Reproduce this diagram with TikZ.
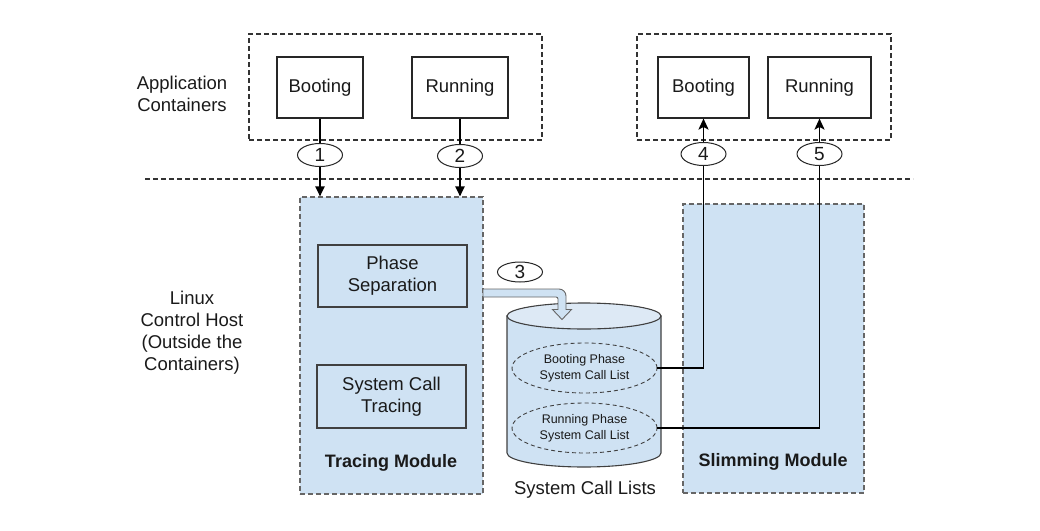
\documentclass[tikz,border=0pt]{standalone}
\usepackage{fontspec}
\setmainfont{Liberation Sans}
\usetikzlibrary{arrows.meta,shapes.geometric}
\definecolor{mblue}{HTML}{CFE2F3}
\definecolor{mtop}{HTML}{DDE9F5}
\definecolor{txt}{HTML}{1A1A1A}
\tikzset{
  big/.style={font=\fontsize{18.5}{22}\selectfont, text=txt},
  cont/.style={draw=black!80, dash pattern=on 5pt off 3pt, line width=1.1pt},
  phasebox/.style={draw=black!85, line width=1.1pt, fill=white, big, inner sep=0pt},
  module/.style={draw=black!60, dash pattern=on 5pt off 3pt, line width=1.1pt, fill=mblue, inner sep=0pt},
  inbox/.style={draw=black!75, line width=1.1pt, big, align=center, inner sep=0pt},
  listell/.style={ellipse, draw=black!75, dash pattern=on 4pt off 3pt, line width=0.9pt, align=center,
     font=\fontsize{12.5}{16}\selectfont, text=txt, inner sep=0pt},
  num/.style={ellipse, draw=black!85, line width=1pt, fill=white, minimum width=45pt, minimum height=23pt, inner sep=0pt, font=\fontsize{19}{22}\selectfont, text=txt},
  flow/.style={line width=1.9pt, draw=black},
}
\begin{document}
\begin{tikzpicture}[x=1pt,y=-1pt]
\useasboundingbox (0,0) rectangle (1040,530);
% side labels
\node[big, align=center] (lab1) at (182,94) {Application\\Containers};
\node[big, align=center] (lab2) at (192,333) {Linux\\Control Host\\(Outside the\\Containers)};
% containers
\node[cont, minimum width=293pt, minimum height=106pt, inner sep=0pt] (lc) at (395.5,87) {};
\node[cont, minimum width=254pt, minimum height=106pt, inner sep=0pt] (rc) at (764,87) {};
\node[phasebox, minimum width=86pt, minimum height=61pt] (b1) at (320,87.5) {Booting};
\node[phasebox, minimum width=96pt, minimum height=61pt] (r1) at (460,87.5) {Running};
\node[phasebox, minimum width=91pt, minimum height=61pt] (b2) at (703.5,87.5) {Booting};
\node[phasebox, minimum width=103pt, minimum height=61pt] (r2) at (819.5,87.5) {Running};
% separator
\coordinate (sepL) at (145,179);
\coordinate (sepR) at (913,179);
\draw[cont] (sepL) -- (sepR);
% modules
\node[module, minimum width=183pt, minimum height=297pt] (tm) at (391.5,345.5) {};
\node[module, minimum width=181pt, minimum height=289pt] (sm) at (773.5,348.5) {};
\node[big, font=\fontsize{18}{22}\selectfont\bfseries] (tml) at (391,463) {Tracing Module};
\node[big, font=\fontsize{18}{22}\selectfont\bfseries] (sml) at (773,462) {Slimming Module};
\node[inbox, minimum width=149pt, minimum height=62pt] (ps) at (392.5,276) {Phase\\Separation};
\node[inbox, minimum width=149pt, minimum height=63pt] (st) at (391.5,396.5) {System Call\\Tracing};
% cylinder
\draw[draw=black!75, line width=1.1pt, fill=mblue] (507,316) -- (507,453)
   arc[start angle=180, end angle=0, x radius=77, y radius=14] -- (661,316) -- cycle;
\draw[draw=black!75, line width=1.1pt, fill=mtop] (584,316) ellipse[x radius=77, y radius=13];
\node[listell, minimum width=145pt, minimum height=50pt] (bl) at (584.5,368) {Booting Phase\\System Call List};
\node[listell, minimum width=145pt, minimum height=50pt] (rl) at (584.5,428) {Running Phase\\System Call List};
\node[big] (cyl) at (585,490) {System Call Lists};
% block arrow 3
\draw[draw=black!60, line width=0.9pt, fill=mblue]
  (483,289) [rounded corners=7pt] -- (566,289) [sharp corners] -- (566,309.5) -- (571.5,309.5) -- (562,319.5)
  -- (552.5,309.5) -- (558,309.5) [rounded corners=2pt] -- (558,297) [sharp corners] -- (483,297) -- cycle;
% flows
\draw[flow, -{Triangle[width=9pt,length=10pt]}] (b1.south) -- (b1.south |- tm.north);
\draw[flow, -{Triangle[width=9pt,length=10pt]}] (r1.south) -- (r1.south |- tm.north);
\draw[flow, -{Stealth[width=10pt,length=11pt,inset=2.5pt]}] (bl.east) -| (b2.south);
\draw[flow, -{Stealth[width=10pt,length=11pt,inset=2.5pt]}] (rl.east) -| (r2.south);
% numbers
\node[num] (n1) at (320,155) {1};
\node[num] (n2) at (460,156) {2};
\node[num, minimum height=20pt] (n3) at (520,272) {3};
\node[num] (n4) at (703.5,154) {4};
\node[num] (n5) at (819.5,154) {5};
\end{tikzpicture}
\end{document}
